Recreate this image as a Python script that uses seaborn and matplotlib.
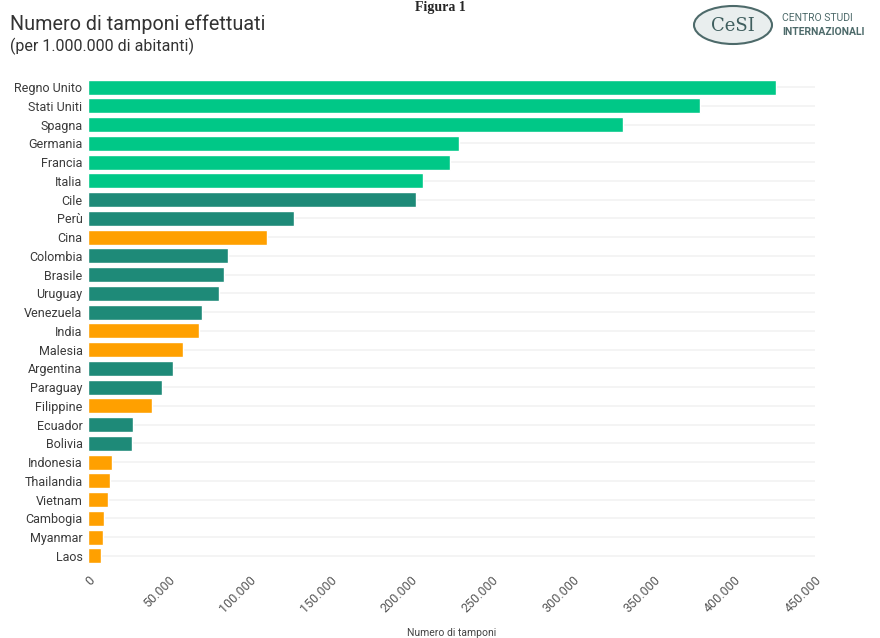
import pandas as pd
import seaborn as sns
import matplotlib
matplotlib.use("Agg")
from matplotlib import pyplot as plt
from matplotlib.patches import Ellipse
from matplotlib.ticker import FuncFormatter

countries = ["Regno Unito", "Stati Uniti", "Spagna", "Germania", "Francia",
             "Italia", "Cile", "Perù", "Cina", "Colombia", "Brasile",
             "Uruguay", "Venezuela", "India", "Malesia", "Argentina",
             "Paraguay", "Filippine", "Ecuador", "Bolivia", "Indonesia",
             "Thailandia", "Vietnam", "Cambogia", "Myanmar", "Laos"]
tests_per_million = [425900, 378800, 331200, 229600, 224100, 207400, 203000,
                     127500, 110800, 86700, 84000, 80900, 70800, 68700,
                     58600, 52400, 45800, 39800, 27900, 27200, 14700,
                     13800, 12600, 9700, 9500, 8000]
regions = ["Europa/USA"] * 6 + ["America Latina", "America Latina", "Asia",
           "America Latina", "America Latina", "America Latina",
           "America Latina", "Asia", "Asia", "America Latina",
           "America Latina", "Asia", "America Latina", "America Latina",
           "Asia", "Asia", "Asia", "Asia", "Asia", "Asia"]
region_colors = {"Europa/USA": "#00C887", "America Latina": "#1E8A78",
                 "Asia": "#FFA000"}

df = pd.DataFrame({"paese": countries, "tamponi": tests_per_million,
                   "regione": regions})

sns.set_style("white")
plt.rcParams['font.family'] = ['Roboto', 'DejaVu Sans']

fig = plt.figure(figsize=(8.8, 6.38), dpi=100)
ax = fig.add_axes([0.1, 0.114, 0.826, 0.764])

sns.barplot(data=df, x="tamponi", y="paese", hue="regione",
            palette=region_colors, dodge=False, legend=False, width=0.8,
            saturation=1, ax=ax, zorder=2)
ax.grid(False)
ax.yaxis.grid(True, color="#f2f2f2", linewidth=1.2)
ax.set_axisbelow(True)

ax.set_xlim(0, 450000)
ax.set_xticks(range(0, 450001, 50000))
ax.xaxis.set_major_formatter(FuncFormatter(lambda v, p: f"{int(v):,}".replace(",", ".")))
plt.setp(ax.get_xticklabels(), rotation=45, ha="right", rotation_mode="anchor",
         fontsize=9, color="#555555")
plt.setp(ax.get_yticklabels(), fontsize=9, color="#3a3a3a")
ax.tick_params(axis="x", length=0, pad=6)
ax.tick_params(axis="y", length=0, pad=4)
ax.set_ylabel("")
ax.set_xlabel("Numero di tamponi", fontsize=7.5, color="#444444", labelpad=9)
sns.despine(left=True, bottom=True)

fig.text(0.011, 0.962, "Numero di tamponi effettuati", fontsize=14.2,
         color="#333333", va="center")
fig.text(0.011, 0.928, "(per 1.000.000 di abitanti)", fontsize=11.5,
         color="#333333", va="center")
fig.text(0.5, 0.999, "Figura 1", fontsize=10, fontweight="bold",
         family="Liberation Serif", ha="center", va="top")

# logo CeSI
logo = Ellipse((733 / 880, 1 - 25 / 638), 78 / 880, 38 / 638,
               transform=fig.transFigure, facecolor="#e9eeee",
               edgecolor="#4d6a6a", linewidth=1.5)
fig.add_artist(logo)
fig.text(733 / 880, 1 - 26 / 638, "CeSI", fontsize=13, color="#3f5e5e",
         ha="center", va="center", family="DejaVu Serif")
fig.text(782 / 880, 1 - 18 / 638, "CENTRO STUDI", fontsize=7.5,
         color="#4d6a6a", va="center")
fig.text(782 / 880, 1 - 32 / 638, "INTERNAZIONALI", fontsize=7.5,
         color="#4d6a6a", fontweight="bold", va="center")

fig.savefig("out.png", dpi=100, facecolor="white")
